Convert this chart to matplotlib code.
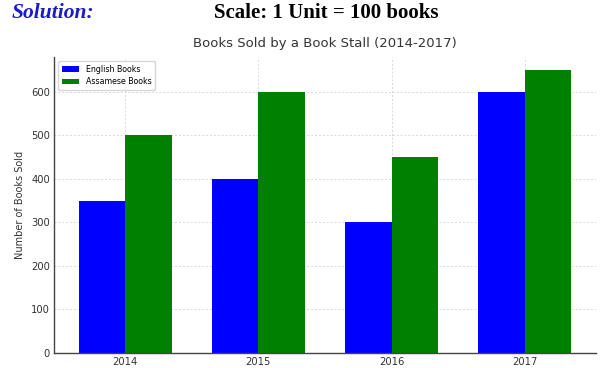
import numpy as np
import matplotlib
matplotlib.use("Agg")
import matplotlib.pyplot as plt

years = ["2014", "2015", "2016", "2017"]
english = [350, 400, 300, 600]
assamese = [500, 600, 450, 650]
yticks = [0, 100, 200, 300, 400, 500, 600]

fig = plt.figure(figsize=(6.04, 3.68), dpi=100)
ax = fig.add_axes([54/604, 15/368, 542/604, 296/368])

x = np.arange(len(years))
w = 0.35
ax.bar(x - w/2, english, w, color="blue", label="English Books")
ax.bar(x + w/2, assamese, w, color="green", label="Assamese Books")

ax.set_xticks(x)
ax.set_xticklabels(years)
ax.set_yticks(yticks)
ax.set_ylim(0, 680)
ax.set_axisbelow(True)
ax.grid(True, linestyle=(0, (2, 2)), color="#d8d8d8", linewidth=0.7)
ax.tick_params(length=0, labelsize=7.2, colors="#333333", pad=3)
for s in ["top", "right"]:
    ax.spines[s].set_visible(False)
for s in ["left", "bottom"]:
    ax.spines[s].set_color("#444444")
    ax.spines[s].set_linewidth(1.0)
ax.set_ylabel("Number of Books Sold", fontsize=7, color="#333333")
ax.set_title("Books Sold by a Book Stall (2014-2017)", fontsize=9.5, color="#333333", pad=7)
ax.legend(loc="upper left", fontsize=5.7, frameon=True, handlelength=2.2,
          borderpad=0.5, labelspacing=0.4, fancybox=True)

fig.text(12/604, 1 - 13/368, "Solution:", fontsize=15.5, fontweight="bold", fontstyle="italic",
         family="Liberation Serif", color="#1a1acc", va="center", ha="left")
fig.text(326/604, 1 - 13/368, "Scale: 1 Unit = 100 books", fontsize=15, fontweight="bold",
         family="Liberation Serif", color="black", va="center", ha="center")

fig.savefig("out.png", dpi=100)
